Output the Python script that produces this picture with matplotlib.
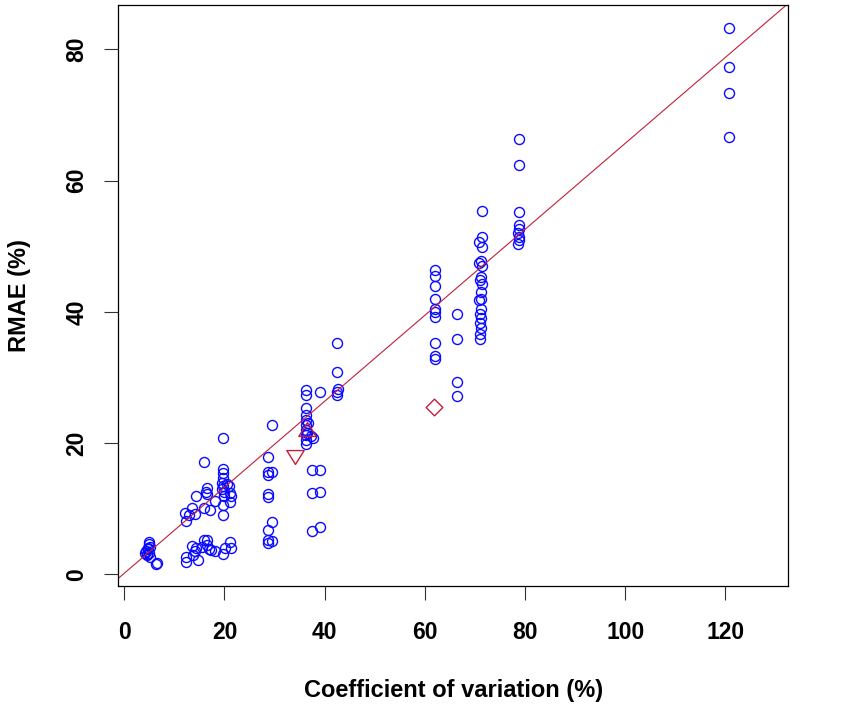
import matplotlib
matplotlib.use("Agg")
import matplotlib.pyplot as plt
from matplotlib.path import Path

plt.rcParams['font.family'] = ['Liberation Sans', 'DejaVu Sans']

# coefficient of variation (%) and RMAE (%) of the blue points
cv_blue = [
    4.2, 4.4, 4.6, 4.8, 4.9, 5.0, 5.0, 5.1, 4.7, 5.2, 4.5, 6.6, 6.4,
    12.2, 12.3, 12.9, 13.6, 14.4, 14.2, 16.0, 16.0, 16.3, 16.6, 16.6, 17.1, 18.1,
    19.8, 19.8, 19.7, 19.8, 19.6, 19.8, 19.5, 20.0, 19.9, 19.8, 19.7,
    21.0, 21.1, 21.2, 21.3, 20.6,
    12.3, 12.3, 13.5, 13.8, 14.4, 14.7, 14.1, 15.5, 16.0, 16.5, 16.5, 16.9,
    17.4, 18.1, 19.8, 20.2, 21.1, 21.3,
    28.7, 28.7, 28.7, 29.5, 28.7, 28.7, 29.5, 28.6, 29.5, 28.7, 28.7, 29.5,
    36.3, 36.3, 36.3, 36.3, 36.3, 36.3, 36.2, 36.3, 36.3, 36.3, 36.5, 36.6,
    37.7, 37.3, 39.1,
    37.4, 39.1, 37.4, 39.1, 37.4, 39.1,
    42.4, 42.4, 42.4, 42.4, 42.6,
    62.0, 62.0, 62.0, 62.0, 62.0, 62.0, 62.0, 62.0, 62.0, 62.0,
    66.5, 66.5, 66.5, 66.5,
    71.5, 71.5, 70.8, 71.4, 71.2, 70.9, 71.5, 71.3, 71.0, 71.5, 71.3, 71.2,
    70.8, 71.2, 71.0, 71.2, 71.0, 71.2, 71.0, 71.0,
    78.8, 78.8, 78.8, 78.8, 78.8, 78.6, 78.9, 78.8, 78.7,
    120.7, 120.7, 120.7, 120.7,
]
rmae_blue = [
    3.3, 3.6, 3.1, 4.0, 4.6, 4.9, 3.3, 2.7, 3.8, 4.2, 2.9, 1.7, 1.6,
    9.4, 8.1, 9.0, 10.1, 11.9, 9.2, 17.1, 10.1, 12.6, 13.1, 12.3, 9.8, 11.1,
    20.7, 16.0, 15.4, 14.6, 13.9, 13.4, 13.0, 12.6, 12.0, 9.0, 10.6,
    13.4, 12.4, 11.0, 12.0, 13.8,
    1.9, 2.7, 4.3, 2.9, 4.0, 2.2, 3.5, 4.1, 5.3, 5.2, 4.4, 3.9,
    3.7, 3.5, 3.1, 4.0, 4.9, 4.0,
    17.9, 15.6, 15.1, 15.6, 12.3, 11.8, 22.8, 6.75, 8.0, 5.2, 4.8, 5.0,
    28.1, 27.3, 25.3, 24.3, 23.5, 22.7, 22.0, 21.2, 20.5, 19.9, 21.6, 23.0,
    20.7, 21.0, 27.8,
    15.9, 15.9, 12.4, 12.6, 6.65, 7.25,
    35.3, 30.9, 27.8, 27.3, 28.2,
    46.4, 45.5, 43.9, 42.0, 40.5, 40.0, 39.2, 35.3, 33.2, 32.8,
    39.7, 35.9, 29.3, 27.2,
    55.3, 51.4, 50.6, 49.9, 47.8, 47.5, 47.0, 45.3, 44.8, 44.3, 43.0, 42.0,
    41.8, 40.5, 39.6, 39.0, 38.3, 37.5, 36.6, 35.8,
    66.4, 62.3, 55.2, 53.2, 52.6, 52.0, 51.4, 50.9, 50.4,
    83.3, 77.3, 73.3, 66.7,
]

# red special points
cv_down, rmae_down = [34.1], [17.8]
cv_up, rmae_up = [36.4], [22.1]
cv_diamond, rmae_diamond = [61.8], [25.5]

# fitted line
line_intercept = 0.16
line_slope = 0.655

x_ticks = [0, 20, 40, 60, 80, 100, 120]
y_ticks = [0, 20, 40, 60, 80]

blue = "#0A0AFF"
red = "#C41E3A"

fig = plt.figure(figsize=(8.5, 7.24), dpi=100)
ax = fig.add_axes([0.1394, 0.1910, 0.7876, 0.8021])

ax.plot(cv_blue, rmae_blue, linestyle="none", marker="o", ms=7.2,
        mfc="none", mec=blue, mew=1.0)

tri_down = Path([(-1, 0.8), (1, 0.8), (0, -0.8), (-1, 0.8)], closed=True)
tri_up = Path([(-1, -0.8), (1, -0.8), (0, 0.8), (-1, -0.8)], closed=True)
diamond = Path([(0, 1), (1, 0), (0, -1), (-1, 0), (0, 1)], closed=True)

ax.plot(cv_down, rmae_down, linestyle="none", marker=tri_down, ms=12.5,
        mfc="none", mec=red, mew=1.0)
ax.plot(cv_up, rmae_up, linestyle="none", marker=tri_up, ms=12.5,
        mfc="none", mec=red, mew=1.0)
ax.plot(cv_diamond, rmae_diamond, linestyle="none", marker=diamond, ms=12,
        mfc="none", mec=red, mew=1.0)

ax.axline((0, line_intercept), slope=line_slope, color=red, lw=0.8)

ax.set_xlim(-1.16, 132.5)
ax.set_ylim(-1.74, 86.75)
ax.set_xticks(x_ticks)
ax.set_yticks(y_ticks)

for sp in ax.spines.values():
    sp.set_linewidth(0.9)
    sp.set_color("black")

ax.tick_params(axis="both", length=10, width=0.8, color="#333333",
               labelsize=16.5)
ax.tick_params(axis="x", pad=15.4)
ax.tick_params(axis="y", pad=11.7)
for lbl in ax.get_xticklabels():
    lbl.set_fontweight("bold")
for lbl in ax.get_yticklabels():
    lbl.set_fontweight("bold")
    lbl.set_rotation(90)
    lbl.set_va("center")

ax.set_xlabel("Coefficient of variation (%)", fontsize=17, fontweight="bold",
              va="center")
ax.xaxis.set_label_coords(0.5, -0.1796)
ax.set_ylabel("RMAE (%)", fontsize=17, fontweight="bold", va="center")
ax.yaxis.set_label_coords(-0.1486, 0.5)

fig.savefig("out.png", dpi=100, facecolor="white")
